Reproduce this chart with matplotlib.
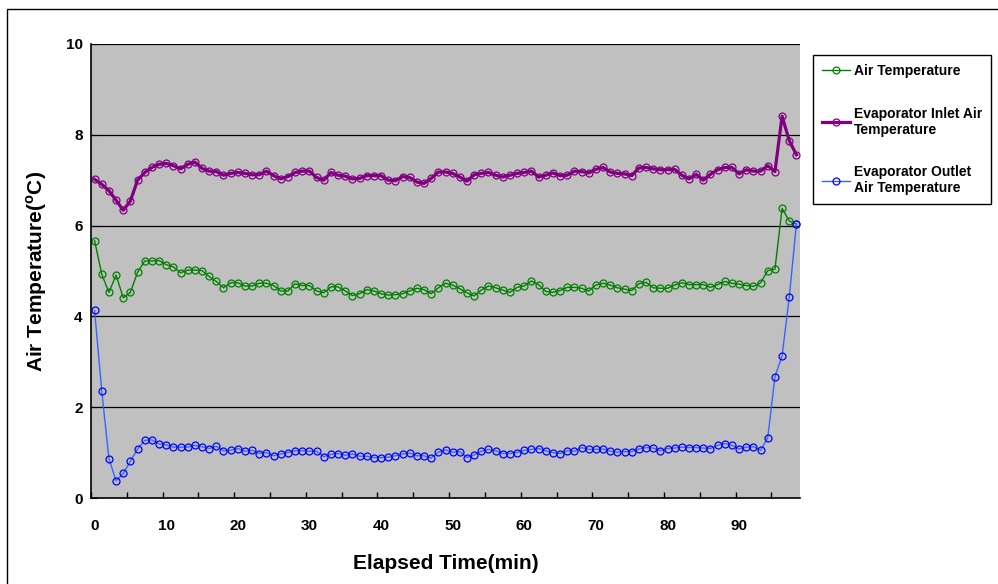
import numpy as np
import matplotlib
matplotlib.use("Agg")
import matplotlib.pyplot as plt
from matplotlib.ticker import FixedLocator, MultipleLocator
from matplotlib.patches import Rectangle

plt.rcParams['font.family'] = ['Liberation Sans', 'DejaVu Sans']
plt.rcParams['font.weight'] = 'bold'
plt.rcParams['mathtext.fontset'] = 'custom'
plt.rcParams['mathtext.rm'] = 'Liberation Sans'
plt.rcParams['mathtext.bf'] = 'Liberation Sans:bold'

# Datos (minutos 0..98)
minutes = np.arange(99)

air_temp = [5.67, 4.93, 4.53, 4.91, 4.41, 4.53, 4.97, 5.22, 5.22, 5.23,
            5.14, 5.09, 4.96, 5.02, 5.02, 5.01, 4.88, 4.77, 4.63, 4.74,
            4.74, 4.67, 4.67, 4.73, 4.73, 4.68, 4.56, 4.56, 4.72, 4.68,
            4.68, 4.56, 4.52, 4.65, 4.65, 4.56, 4.46, 4.50, 4.59, 4.56,
            4.50, 4.47, 4.48, 4.50, 4.56, 4.62, 4.59, 4.50, 4.63, 4.73,
            4.69, 4.61, 4.52, 4.45, 4.58, 4.67, 4.63, 4.58, 4.53, 4.64,
            4.67, 4.78, 4.70, 4.55, 4.53, 4.57, 4.64, 4.64, 4.62, 4.56,
            4.69, 4.73, 4.69, 4.63, 4.60, 4.57, 4.72, 4.75, 4.63, 4.62,
            4.62, 4.69, 4.74, 4.70, 4.70, 4.70, 4.64, 4.70, 4.77, 4.73,
            4.71, 4.68, 4.66, 4.74, 5.01, 5.04, 6.38, 6.10, 6.03]

inlet_temp = [7.02, 6.91, 6.77, 6.56, 6.34, 6.54, 7.00, 7.17, 7.28, 7.35,
              7.37, 7.32, 7.25, 7.35, 7.40, 7.26, 7.20, 7.19, 7.11, 7.15,
              7.17, 7.15, 7.12, 7.12, 7.20, 7.10, 7.03, 7.08, 7.17, 7.20,
              7.20, 7.06, 7.00, 7.17, 7.11, 7.09, 7.03, 7.04, 7.10, 7.10,
              7.10, 7.00, 6.99, 7.08, 7.06, 6.96, 6.93, 7.04, 7.18, 7.18,
              7.15, 7.07, 6.98, 7.12, 7.15, 7.17, 7.11, 7.07, 7.11, 7.15,
              7.17, 7.20, 7.07, 7.11, 7.16, 7.10, 7.11, 7.20, 7.19, 7.16,
              7.24, 7.28, 7.18, 7.15, 7.14, 7.10, 7.27, 7.28, 7.25, 7.23,
              7.23, 7.24, 7.11, 7.03, 7.13, 7.00, 7.13, 7.23, 7.28, 7.28,
              7.14, 7.23, 7.20, 7.20, 7.32, 7.19, 8.41, 7.87, 7.56]

outlet_temp = [4.13, 2.36, 0.87, 0.38, 0.54, 0.81, 1.08, 1.27, 1.28, 1.19,
               1.17, 1.12, 1.12, 1.12, 1.16, 1.13, 1.09, 1.14, 1.04, 1.05,
               1.09, 1.03, 1.05, 0.98, 1.00, 0.93, 0.97, 1.00, 1.04, 1.04,
               1.03, 1.03, 0.91, 0.96, 0.98, 0.94, 0.97, 0.92, 0.92, 0.89,
               0.89, 0.90, 0.93, 0.97, 0.99, 0.93, 0.93, 0.88, 1.01, 1.06,
               1.01, 1.02, 0.89, 0.95, 1.03, 1.07, 1.04, 0.98, 0.98, 1.00,
               1.05, 1.07, 1.09, 1.04, 1.00, 0.98, 1.04, 1.03, 1.11, 1.07,
               1.07, 1.08, 1.03, 1.01, 1.02, 1.02, 1.08, 1.11, 1.10, 1.04,
               1.09, 1.10, 1.12, 1.11, 1.11, 1.10, 1.09, 1.16, 1.20, 1.16,
               1.08, 1.12, 1.13, 1.05, 1.33, 2.67, 3.13, 4.42, 6.04]

labels = ['Air Temperature',
          'Evaporator Inlet Air\nTemperature',
          'Evaporator Outlet\nAir Temperature']

fig = plt.figure(figsize=(9.98, 5.84), dpi=100)
ax = fig.add_axes([91/998, 1 - 498/584, 709/998, 454/584])
ax.set_facecolor('#c0c0c0')

# marco exterior
fig.patches.append(Rectangle((7/998, -0.1), 1.2, 1.1 - 9/584, transform=fig.transFigure,
                             fill=False, edgecolor='black', linewidth=1.0))

ax.plot(minutes, air_temp, color='#008000', lw=1.0, marker='o', ms=5,
        mfc='none', mec='#008000', mew=0.9, label=labels[0])
ax.plot(minutes, inlet_temp, color='#800080', lw=2.3, marker='o', ms=5,
        mfc='none', mec='#800080', mew=0.9, label=labels[1])
ax.plot(minutes, outlet_temp, color='#3366ff', lw=1.0, marker='o', ms=5,
        mfc='none', mec='#0000ff', mew=0.9, label=labels[2])

ax.set_xlim(-0.5, 98.5)
ax.set_ylim(0, 10)
ax.xaxis.set_major_locator(FixedLocator(np.arange(0, 91, 10)))
ax.xaxis.set_minor_locator(FixedLocator(np.arange(-0.5, 95, 5)))
ax.yaxis.set_major_locator(MultipleLocator(2))
ax.tick_params(axis='x', which='major', length=0, labelsize=11, pad=15)
ax.tick_params(axis='x', which='minor', direction='in', length=4, width=1)
ax.tick_params(axis='y', direction='in', length=4, labelsize=11, pad=6)
for lab in ax.get_xticklabels() + ax.get_yticklabels():
    lab.set_fontweight('bold')

ax.grid(axis='y', color='black', lw=0.9)
ax.set_axisbelow(True)
for s in ['top', 'right']:
    ax.spines[s].set_visible(False)
for s in ['left', 'bottom']:
    ax.spines[s].set_linewidth(1.2)

ax.set_xlabel('Elapsed Time(min)', fontsize=15, fontweight='bold', labelpad=15)
ax.set_ylabel('Air Temperature($^{\\mathbf{o}}$C)', fontsize=15,
              fontweight='bold', labelpad=12)

leg = fig.legend(loc='upper left', bbox_to_anchor=(813/998, 1 - 55/584),
                 borderaxespad=0, fontsize=10, labelspacing=2.05, borderpad=0.65,
                 handlelength=2.0, handletextpad=0.3, fancybox=False,
                 edgecolor='black', framealpha=1)
leg.get_frame().set_linewidth(1.0)
for t in leg.get_texts():
    t.set_fontweight('bold')

fig.savefig('out.png', dpi=100)
